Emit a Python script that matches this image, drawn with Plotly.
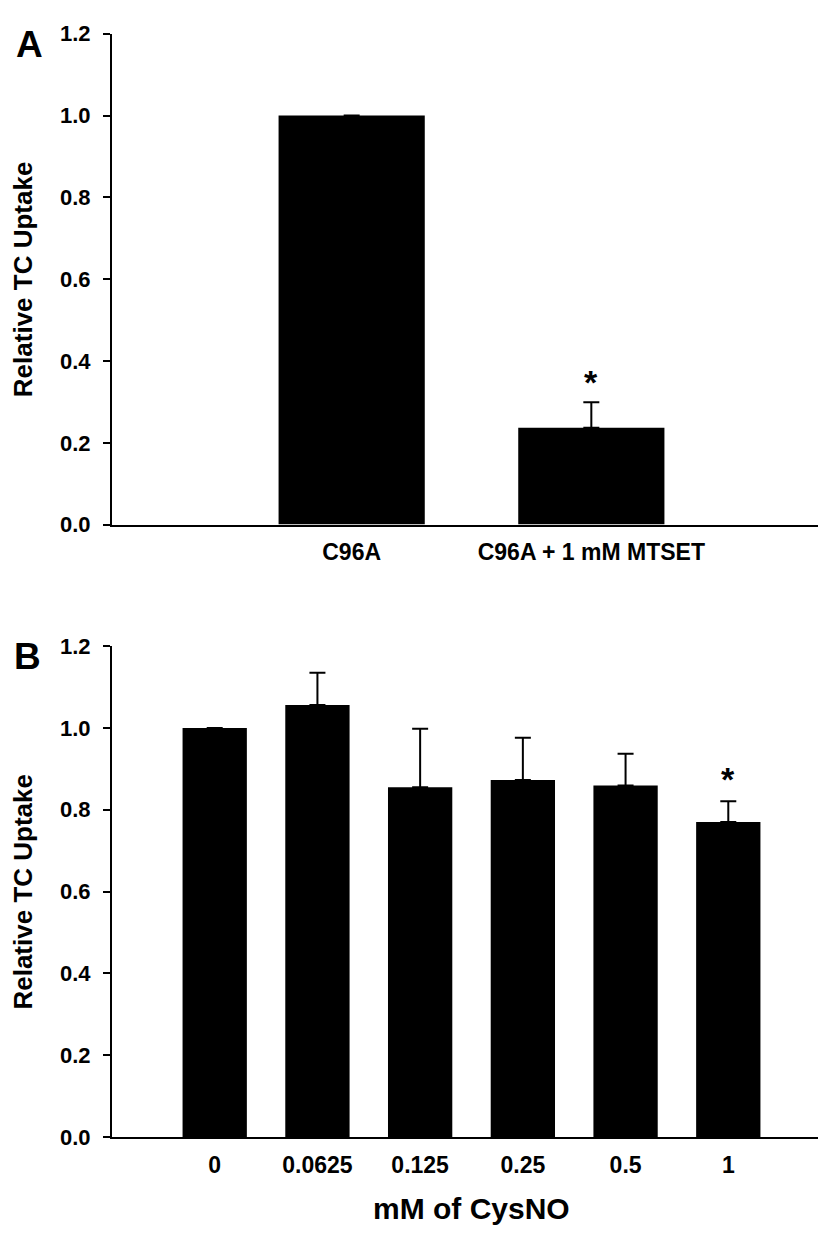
import plotly.graph_objects as go
from plotly.subplots import make_subplots

# Panel A data
a_labels = ["C96A", "C96A + 1 mM MTSET"]
a_values = [1.0, 0.237]
a_errors = [0.0, 0.062]
a_star_index = 1
a_star_y = 0.367

# Panel B data
b_labels = ["0", "0.0625", "0.125", "0.25", "0.5", "1"]
b_values = [1.0, 1.056, 0.855, 0.873, 0.859, 0.770]
b_errors = [0.0, 0.079, 0.143, 0.103, 0.078, 0.051]
b_star_index = 5
b_star_y = 0.894

y_ticks = [0.0, 0.2, 0.4, 0.6, 0.8, 1.0, 1.2]

W, H = 826, 1239
FONT = "Liberation Sans"

fig = make_subplots(rows=2, cols=1)

a_x = [i + 1 for i in range(len(a_labels))]
b_x = [i + 1 for i in range(len(b_labels))]

fig.add_trace(go.Bar(
    x=a_x, y=a_values, width=0.61,
    marker=dict(color="black", line=dict(width=0)),
    error_y=dict(type="data", symmetric=False, array=a_errors,
                 arrayminus=[0] * len(a_errors), color="black",
                 thickness=2, width=8),
    showlegend=False), row=1, col=1)

fig.add_trace(go.Bar(
    x=b_x, y=b_values, width=0.626,
    marker=dict(color="black", line=dict(width=0)),
    error_y=dict(type="data", symmetric=False, array=b_errors,
                 arrayminus=[0] * len(b_errors), color="black",
                 thickness=2, width=8),
    showlegend=False), row=2, col=1)

x0, x1 = 104 / W, 823 / W
a_dom = [1 - 515 / H, 1 - 14 / H]
b_dom = [1 - 1140 / H, 1 - 639 / H]

ytickfont = dict(family=FONT, size=22, color="black", weight="bold")
xtickfont = dict(family=FONT, size=23, color="black", weight="bold")

common_y = dict(range=[0, 1.2], tickvals=y_ticks,
                ticktext=[f"{v:.1f}" for v in y_ticks],
                showline=True, linecolor="black", linewidth=2,
                ticks="outside", ticklen=7, tickwidth=2, tickcolor="black",
                showgrid=False, zeroline=False, tickfont=ytickfont,
                ticklabelstandoff=8)

fig.update_layout(
    width=W, height=H,
    margin=dict(l=0, r=0, t=0, b=0),
    plot_bgcolor="white", paper_bgcolor="white",
    xaxis=dict(domain=[x0, x1], range=[0, 3], tickvals=a_x, ticktext=a_labels,
               showline=True, linecolor="black", linewidth=2, ticks="",
               showgrid=False, zeroline=False, tickfont=xtickfont,
               ticklabelstandoff=6),
    yaxis=dict(domain=a_dom, **common_y),
    xaxis2=dict(domain=[x0, x1], range=[0, 7], tickvals=b_x, ticktext=b_labels,
                showline=True, linecolor="black", linewidth=2, ticks="",
                showgrid=False, zeroline=False, tickfont=xtickfont,
                ticklabelstandoff=6),
    yaxis2=dict(domain=b_dom, **common_y),
)

annos = []
star_font = dict(family=FONT, size=34, color="black", weight="bold")
annos.append(dict(x=a_x[a_star_index], y=a_star_y, xref="x", yref="y",
                  text="*", showarrow=False, yanchor="middle", yshift=-8,
                  font=star_font))
annos.append(dict(x=b_x[b_star_index], y=b_star_y, xref="x2", yref="y2",
                  text="*", showarrow=False, yanchor="middle", yshift=-8,
                  font=star_font))
for yc in [(14 + 515) / 2, (639 + 1140) / 2]:
    annos.append(dict(x=15 / W, y=1 - yc / H, xref="paper", yref="paper",
                      text="Relative TC Uptake", textangle=-90, showarrow=False,
                      xanchor="center", yanchor="middle",
                      font=dict(family=FONT, size=26, color="black", weight="bold")))
annos.append(dict(x=(104 + 823) / 2 / W, y=1 - 1213 / H, xref="paper", yref="paper",
                  text="mM of CysNO", showarrow=False,
                  xanchor="center", yanchor="middle",
                  font=dict(family=FONT, size=30, color="black", weight="bold")))
annos.append(dict(x=21 / W, y=1 - 25 / H, xref="paper", yref="paper",
                  text="A", showarrow=False, xanchor="center", yanchor="middle",
                  font=dict(family=FONT, size=37, color="black", weight="bold")))
annos.append(dict(x=19.5 / W, y=1 - 649.5 / H, xref="paper", yref="paper",
                  text="B", showarrow=False, xanchor="center", yanchor="middle",
                  font=dict(family=FONT, size=37, color="black", weight="bold")))

fig.update_layout(annotations=annos)

fig.write_html("out.html")
